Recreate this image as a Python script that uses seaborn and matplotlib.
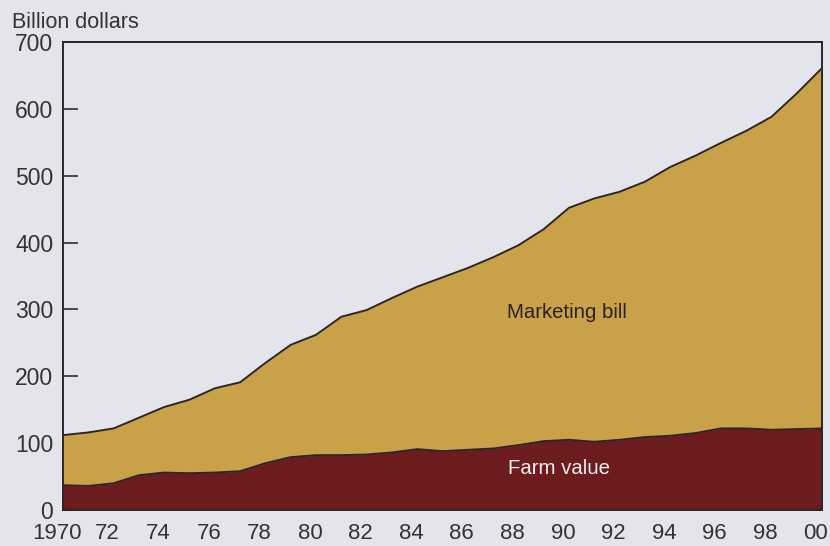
import numpy as np
import pandas as pd
import seaborn as sns
from matplotlib import pyplot as plt
from matplotlib import transforms

# datos (miles de millones de dolares)
years = list(range(1970, 2001))
farm_value = [37, 36, 40, 52, 56, 55, 56, 58, 70, 79, 82, 82, 83, 86, 91,
              88, 90, 92, 97, 103, 105, 102, 105, 109, 111, 115, 122, 122, 120, 121, 122]
total_bill = [112, 116, 122, 138, 154, 165, 182, 191, 220, 247, 262, 289, 299, 317, 334,
              348, 362, 378, 396, 420, 452, 466, 476, 491, 513, 530, 549, 567, 588, 623, 661]
xtick_labels = ['1970', '72', '74', '76', '78', '80', '82', '84', '86', '88',
                '90', '92', '94', '96', '98', '00']

df = pd.DataFrame({'year': years, 'farm': farm_value, 'total': total_bill})

sns.set_style('white')
plt.rcParams['font.family'] = ['Liberation Sans', 'DejaVu Sans']

bg = '#e4e5ec'
gold = '#c9a148'
maroon = '#6c1c1e'
edge = '#2b2626'

fig = plt.figure(figsize=(8.3, 5.46), dpi=100, facecolor=bg)
ax = fig.add_axes([63 / 830, 36 / 546, 759 / 830, 468 / 546])
ax.set_facecolor(bg)

# areas apiladas
ax.fill_between(df['year'], df['farm'], df['total'], color=gold, lw=0, zorder=1)
ax.fill_between(df['year'], 0, df['farm'], color=maroon, lw=0, zorder=1)
sns.lineplot(data=df, x='year', y='total', color=edge, lw=1.4, ax=ax, zorder=2)
sns.lineplot(data=df, x='year', y='farm', color=edge, lw=1.4, ax=ax, zorder=2)

ax.set_xlim(1970, 2000)
ax.set_ylim(0, 700)
ax.set_xlabel('')
ax.set_ylabel('')

ax.set_xticks(range(1970, 2001, 2))
ax.set_xticklabels(xtick_labels)
ax.set_xticks(range(1970, 2001), minor=True)
ax.set_yticks(range(0, 701, 100))

ax.tick_params(axis='x', which='both', bottom=True, direction='in', length=8, width=1.1,
               color='#1e1a1a', labelsize=16, labelcolor='#333333', pad=9.5)
ax.tick_params(axis='y', left=True, direction='in', length=11, width=1.1, color='#1e1a1a',
               labelsize=16.5, labelcolor='#333333', pad=7)
for s in ax.spines.values():
    s.set_color(edge)
    s.set_linewidth(1.4)
    s.set_zorder(3)

# las etiquetas del eje x estan un poco corridas a la izquierda
shift = transforms.ScaledTranslation(-6 / 100, 0, fig.dpi_scale_trans)
for lbl in ax.get_xticklabels():
    lbl.set_transform(lbl.get_transform() + shift)

ax.text(1989.9, 296, 'Marketing bill', ha='center', va='center',
        fontsize=14.7, color='#2a2222')
ax.text(1989.6, 62, 'Farm value', ha='center', va='center',
        fontsize=14.7, color='#f2eeee')
fig.text(12 / 830, 1 - 22 / 546, 'Billion dollars', ha='left', va='center',
         fontsize=15.5, color='#333333')

fig.savefig('out.png', dpi=100, facecolor=bg)
